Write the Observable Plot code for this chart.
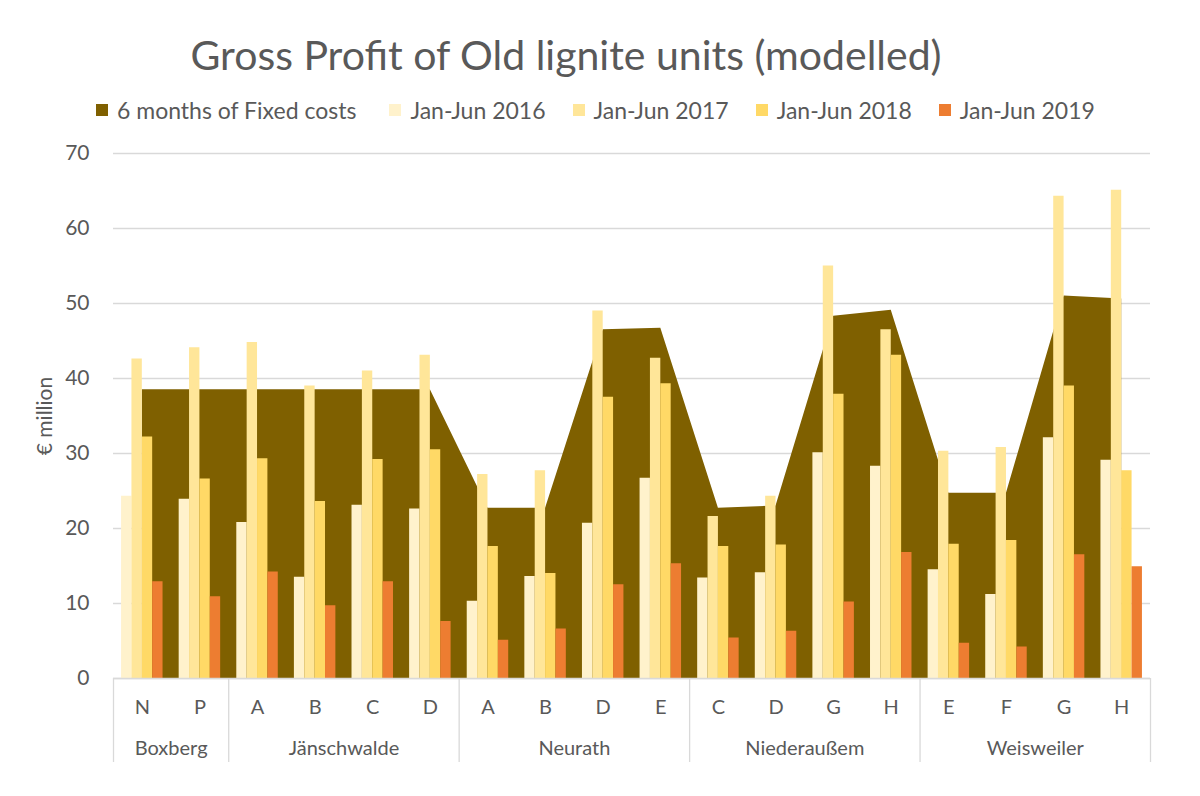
<!DOCTYPE html>
<html><head><meta charset="utf-8">
<script src="https://cdn.jsdelivr.net/npm/d3@7"></script>
<script src="https://cdn.jsdelivr.net/npm/@observablehq/plot@0.6"></script>
<style>
body{margin:0;background:#fff;font-family:Lato,"Open Sans",sans-serif;color:#595959}
#header{position:relative;width:1200px;height:140px}
#title{position:absolute;left:0;width:1132px;text-align:center;top:34px;font-size:41px;line-height:1;white-space:nowrap}
#legend{position:absolute;top:97px;left:96px;display:flex;align-items:center;font-size:23px;line-height:26px;white-space:nowrap}
.item{display:flex;align-items:center;margin-right:27px}
.item:first-child{margin-right:33px}
.sw{width:12px;height:12px;margin-right:9px}
</style></head>
<body>
<div id="header"><div id="title"></div><div id="legend"></div></div>
<div id="chart"></div>
<script>
const title = "Gross Profit of Old lignite units (modelled)";
const yLabel = "€ million";
const plants = ["Boxberg", "Jänschwalde", "Neurath", "Niederaußem", "Weisweiler"];
const plantOf = ["Boxberg","Boxberg","Jänschwalde","Jänschwalde","Jänschwalde","Jänschwalde","Neurath","Neurath","Neurath","Neurath","Niederaußem","Niederaußem","Niederaußem","Niederaußem","Weisweiler","Weisweiler","Weisweiler","Weisweiler"];
const units = ["N","P","A","B","C","D","A","B","D","E","C","D","G","H","E","F","G","H"];
const fixedCosts = [38.5,38.5,38.5,38.5,38.5,38.5,22.7,22.7,46.5,46.7,22.7,23.0,48.3,49.1,24.7,24.7,51.0,50.6];
const jan2016 = [24.3,23.9,20.8,13.5,23.1,22.6,10.3,13.6,20.7,26.7,13.4,14.1,30.1,28.3,14.5,11.2,32.1,29.1];
const jan2017 = [42.6,44.1,44.8,39.0,41.0,43.1,27.2,27.7,49.0,42.7,21.6,24.3,55.0,46.5,30.3,30.8,64.3,65.1];
const jan2018 = [32.2,26.6,29.3,23.6,29.2,30.5,17.6,14.0,37.5,39.3,17.6,17.8,37.9,43.1,17.9,18.4,39.0,27.7];
const jan2019 = [12.9,10.9,14.2,9.7,12.9,7.6,5.1,6.6,12.5,15.3,5.4,6.3,10.2,16.8,4.7,4.2,16.5,14.9];
const seriesNames = ["6 months of Fixed costs","Jan-Jun 2016","Jan-Jun 2017","Jan-Jun 2018","Jan-Jun 2019"];
const seriesColors = ["#7F6000","#FFF2CC","#FFE699","#FFD966","#ED7D31"];
const yTicks = [0,10,20,30,40,50,60,70];

document.getElementById("title").textContent = title;
const legend = document.getElementById("legend");
seriesNames.forEach((n, k) => {
  const it = document.createElement("div"); it.className = "item";
  const sw = document.createElement("div"); sw.className = "sw"; sw.style.background = seriesColors[k];
  const tx = document.createElement("span"); tx.textContent = n;
  it.append(sw, tx); legend.append(it);
});

const barSeries = [jan2016, jan2017, jan2018, jan2019];
const idx = units.map((_, i) => i);
const bars = [];
barSeries.forEach((s, j) => s.forEach((v, i) => bars.push({i, j, v})));
const bw = 0.18, cw = 0.72;
const groupCenters = plants.map(p => d3.mean(idx.filter(i => plantOf[i] === p)));
const boundaries = [-0.5, ...plants.map(p => d3.max(idx.filter(i => plantOf[i] === p)) + 0.5)];

const chart = Plot.plot({
  width: 1200, height: 656,
  marginTop: 13, marginBottom: 118, marginLeft: 113, marginRight: 50,
  style: {fontFamily: "Lato, 'Open Sans', sans-serif", color: "#595959", background: "#fff", overflow: "visible"},
  x: {type: "linear", domain: [-0.5, units.length - 0.5], axis: null},
  y: {domain: [0, 70], axis: null},
  marks: [
    Plot.gridY(yTicks, {stroke: "#D9D9D9", strokeOpacity: 1, strokeWidth: 1.3}),
    Plot.axisY(yTicks, {tickSize: 0, tickPadding: 24, fontSize: 21, label: null}),
    Plot.text([yLabel], {frameAnchor: "left", textAnchor: "middle", rotate: -90, dx: -68, fontSize: 21, fill: "#595959"}),
    Plot.areaY(idx, {x: i => i, y: i => fixedCosts[i], fill: seriesColors[0]}),
    Plot.rectY(bars, {x1: d => d.i - cw / 2 + d.j * bw, x2: d => d.i - cw / 2 + (d.j + 1) * bw, y1: 0, y2: "v", fill: d => seriesColors[d.j + 1]}),
    Plot.ruleY([0], {stroke: "#D9D9D9", strokeWidth: 1.3}),
    Plot.axisX(boundaries, {tickSize: 84, tickFormat: () => "", stroke: "#D9D9D9", strokeWidth: 1.3, label: null}),
    Plot.axisX(idx, {tickSize: 0, tickPadding: 21, tickFormat: i => units[i], fontSize: 20, label: null}),
    Plot.axisX(groupCenters, {tickSize: 0, tickPadding: 62, tickFormat: (c, k) => plants[k], fontSize: 20, label: null})
  ]
});
document.getElementById("chart").append(chart);
</script>
</body></html>
